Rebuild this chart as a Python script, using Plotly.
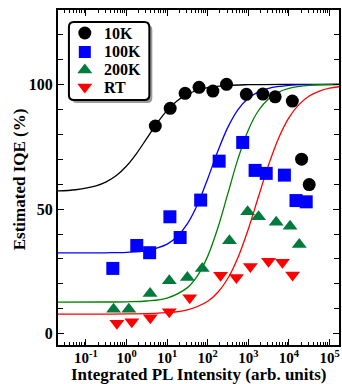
import plotly.graph_objects as go

# ---------------- data ----------------
series_names = ["10K", "100K", "200K", "RT"]

x_10K = [5.12, 11.9, 27.7, 61, 134, 290, 893, 2275, 4570, 12100, 20450, 31500]
y_10K = [83.3, 90.4, 96.4, 98.8, 97.3, 100.0, 96.0, 96.1, 95.0, 93.3, 70.0, 59.8]

x_100K = [0.46, 1.79, 3.71, 11.7, 20.9, 67, 191, 726, 1466, 2754, 7720, 14900, 26600]
y_100K = [26.2, 35.4, 32.5, 46.9, 38.6, 53.6, 69.2, 76.7, 65.5, 64.3, 63.6, 53.4, 52.9]

x_200K = [0.48, 1.14, 3.8, 11.3, 31.5, 73.4, 343, 961, 1786, 4840, 10640, 17950]
y_200K = [9.8, 9.8, 16.1, 21.3, 22.6, 26.2, 37.3, 48.9, 46.9, 44.7, 43.1, 35.8]

x_RT = [0.58, 1.35, 3.86, 11.3, 36, 207, 509, 1120, 3135, 6900, 12300]
y_RT = [4.2, 4.8, 6.4, 8.8, 14.4, 23.5, 22.6, 27.0, 29.1, 28.7, 23.6]

# fitted curves (log10 of intensity, IQE %)
fit_10K_log = [-1.72, -1.25, -0.75, -0.5, -0.25, 0, 0.25, 0.5, 0.75, 1.0, 1.25, 1.5, 2.0, 2.5, 3.0, 4.0, 5.25]
fit_10K_y = [57.26, 57.74, 59.27, 60.87, 63.42, 67.24, 72.36, 78.37, 84.40, 89.58, 93.44, 96.05, 98.67, 99.57, 99.86, 100.0, 100.0]

fit_100K_log = [-1.72, -0.5, 0, 0.5, 1.0, 1.25, 1.5, 1.75, 2.0, 2.25, 2.5, 2.75, 3.0, 3.25, 3.5, 4.0, 4.5, 5.25]
fit_100K_y = [32.40, 32.47, 32.67, 33.39, 35.97, 39.00, 44.12, 51.94, 62.19, 73.26, 82.94, 89.98, 94.43, 97.00, 98.42, 99.57, 99.89, 99.99]

fit_200K_log = [-1.72, -0.5, 0, 0.5, 1.0, 1.5, 1.75, 2.0, 2.25, 2.5, 2.75, 3.0, 3.25, 3.5, 3.75, 4.0, 4.5, 5.25]
fit_200K_y = [12.70, 12.73, 12.82, 13.14, 14.32, 18.50, 23.29, 31.13, 42.50, 56.46, 70.40, 81.73, 89.51, 94.26, 96.94, 98.39, 99.57, 99.94]

fit_RT_log = [-1.72, 0, 1.0, 1.5, 2.0, 2.25, 2.5, 2.75, 3.0, 3.25, 3.5, 3.75, 4.0, 4.25, 4.5, 4.75, 5.0, 5.25]
fit_RT_y = [7.90, 7.95, 8.44, 9.58, 13.02, 16.63, 22.36, 30.81, 42.03, 55.01, 67.82, 78.63, 86.63, 91.97, 95.31, 97.30, 98.46, 99.07]

x_tick_vals = [0.1, 1, 10, 100, 1000, 10000, 100000]
x_tick_text = ["10<sup>-1</sup>", "10<sup>0</sup>", "10<sup>1</sup>", "10<sup>2</sup>",
               "10<sup>3</sup>", "10<sup>4</sup>", "10<sup>5</sup>"]
y_tick_vals = [0, 50, 100]
y_tick_text = ["0", "50", "100"]

x_title = "Integrated PL Intensity (arb. units)"
y_title = "Estimated IQE (%)"

# ---------------- styling ----------------
FONT = "Liberation Serif"
colors = ["#000000", "#0000ff", "#007a3d", "#ff0000"]
line_colors = ["#000000", "#0000ff", "#008000", "#ff0000"]
symbols = ["circle", "square", "triangle-up", "triangle-down"]
sizes = [13, 13, 13, 13]
legend_sizes = [13, 12, 13, 13]

W, H = 342, 384
ML, MR, MT, MB = 58, 1, 10, 39
PW, PH = W - ML - MR, H - MT - MB

fig = go.Figure()

fits = [(fit_10K_log, fit_10K_y), (fit_100K_log, fit_100K_y),
        (fit_200K_log, fit_200K_y), (fit_RT_log, fit_RT_y)]
for (lx, ly), c in zip(fits, line_colors):
    fig.add_trace(go.Scatter(x=[10 ** v for v in lx], y=ly, mode="lines",
                             line=dict(color=c, width=1.3, shape="spline"),
                             showlegend=False, hoverinfo="skip"))

data = [(x_10K, y_10K), (x_100K, y_100K), (x_200K, y_200K), (x_RT, y_RT)]
for (xs, ys), name, c, s, sz in zip(data, series_names, colors, symbols, sizes):
    fig.add_trace(go.Scatter(x=xs, y=ys, mode="markers", name=name, showlegend=False,
                             marker=dict(color=c, symbol=s, size=sz, line=dict(width=0))))

# hand-placed legend (pixel coordinates on an overlay axis)
leg_sym_x = 85
leg_text_x = 102
leg_rows = [33, 52, 70, 87]
for name, c, s, sz, ry in zip(series_names, colors, symbols, legend_sizes, leg_rows):
    fig.add_trace(go.Scatter(x=[leg_sym_x - ML], y=[ry - MT], mode="markers", name=name,
                             xaxis="x2", yaxis="y2", showlegend=False, hoverinfo="skip",
                             marker=dict(color=c, symbol=s, size=sz, line=dict(width=0))))

minor_x = [m * 10 ** e for e in range(-2, 6) for m in range(2, 10)]
minor_y = [v for v in range(0, 130, 10) if v not in y_tick_vals]

xaxis = dict(type="log", range=[-1.687, 5.232],
             showline=True, linecolor="black", linewidth=2, mirror="ticks",
             ticks="inside", ticklen=6, tickwidth=1.3, tickcolor="black",
             tickmode="array", tickvals=x_tick_vals, ticktext=x_tick_text,
             ticklabelstandoff=-2,
             tickfont=dict(family=FONT, size=15, color="black", weight="bold"),
             minor=dict(tickmode="array", tickvals=minor_x, ticks="inside", ticklen=3,
                        tickwidth=1, tickcolor="black", showgrid=False),
             showgrid=False, zeroline=False)
yaxis = dict(range=[-4.5, 129.8],
             showline=True, linecolor="black", linewidth=2, mirror="ticks",
             ticks="inside", ticklen=6, tickwidth=1.3, tickcolor="black",
             tickmode="array", tickvals=y_tick_vals, ticktext=y_tick_text,
             tickfont=dict(family=FONT, size=16, color="black", weight="bold"),
             minor=dict(tickmode="array", tickvals=minor_y, ticks="inside", ticklen=5,
                        tickwidth=1, tickcolor="black", showgrid=False),
             showgrid=False, zeroline=False)


def px(xp):
    return (xp - ML) / PW


def py(yp):
    return (H - MB - yp) / PH


def rounded(x0, y0, x1, y1, r):
    return (f"M {px(x0 + r)},{py(y0)} L {px(x1 - r)},{py(y0)} Q {px(x1)},{py(y0)} {px(x1)},{py(y0 + r)} "
            f"L {px(x1)},{py(y1 - r)} Q {px(x1)},{py(y1)} {px(x1 - r)},{py(y1)} "
            f"L {px(x0 + r)},{py(y1)} Q {px(x0)},{py(y1)} {px(x0)},{py(y1 - r)} "
            f"L {px(x0)},{py(y0 + r)} Q {px(x0)},{py(y0)} {px(x0 + r)},{py(y0)} Z")


# legend box with shadow
fig.add_shape(type="path", xref="paper", yref="paper", path=rounded(72, 25, 153, 103, 5),
              fillcolor="#9a9a9a", line=dict(width=0), layer="below")
fig.add_shape(type="path", xref="paper", yref="paper", path=rounded(69, 22, 150, 100, 5),
              fillcolor="white", line=dict(color="black", width=2), layer="below")

annotations = [
    dict(text=x_title, xref="paper", yref="paper",
         x=px(200), y=py(374.5), xanchor="center", yanchor="middle", showarrow=False,
         borderpad=0,
         font=dict(family=FONT, size=17, color="black", weight="bold")),
    dict(text=y_title, xref="paper", yref="paper",
         x=px(19), y=py(179), xanchor="center", yanchor="middle", showarrow=False,
         textangle=-90,
         font=dict(family=FONT, size=17, color="black", weight="bold")),
]
for name, ry in zip(series_names, leg_rows):
    annotations.append(dict(text=name, xref="paper", yref="paper",
                            x=px(leg_text_x), y=py(ry), xanchor="left", yanchor="middle",
                            showarrow=False,
                            font=dict(family=FONT, size=16, color="black", weight="bold")))

fig.update_layout(
    width=W, height=H,
    margin=dict(l=ML, r=MR, t=MT, b=MB),
    paper_bgcolor="white", plot_bgcolor="white",
    font=dict(family=FONT, color="black"),
    showlegend=False,
    xaxis=xaxis, yaxis=yaxis,
    xaxis2=dict(overlaying="x", range=[0, PW], visible=False, fixedrange=True),
    yaxis2=dict(overlaying="y", range=[PH, 0], visible=False, fixedrange=True),
    annotations=annotations,
)

fig.write_html("out.html")
